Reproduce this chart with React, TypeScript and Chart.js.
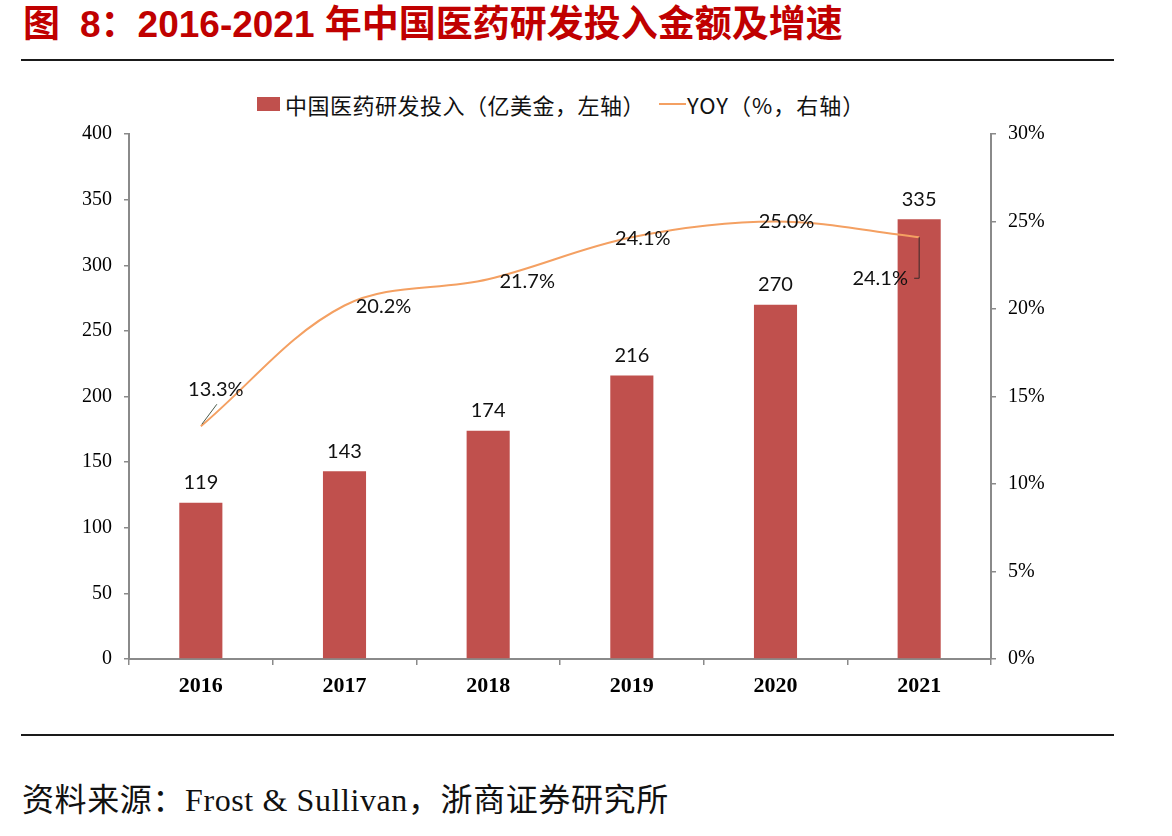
import React, { useEffect, useRef } from 'react';
import { Chart, registerables } from 'chart.js';

Chart.register(...registerables);

// 2016-2021 China pharmaceutical R&D spending (100M USD) and YoY growth (%)
const years = ['2016', '2017', '2018', '2019', '2020', '2021'];
const rdSpend = [119, 143, 174, 216, 270, 335];
const yoyGrowth = [13.3, 20.2, 21.7, 24.1, 25.0, 24.1];

const BAR_COLOR = '#C0504D';
const LINE_COLOR = '#F4A062';
const AXIS_COLOR = '#8a8a8a';

// pixel offsets of the growth labels relative to their points, plus optional leader lines
const growthLabelOffsets: Array<{ dx: number; dy: number; leader?: 'diag' | 'elbow' }> = [
  { dx: 15, dy: -37, leader: 'diag' },
  { dx: 39, dy: 1 },
  { dx: 39, dy: 2 },
  { dx: 11, dy: 1 },
  { dx: 11, dy: 0 },
  { dx: -39, dy: 41, leader: 'elbow' },
];

const valueLabels = {
  id: 'valueLabels',
  afterDatasetsDraw(chart: any) {
    const { ctx } = chart;
    ctx.save();
    ctx.font = '20px Lato, "Noto Sans", sans-serif';
    ctx.fillStyle = '#111';
    ctx.textAlign = 'center';
    ctx.textBaseline = 'middle';

    const barMeta = chart.getDatasetMeta(0);
    barMeta.data.forEach((bar: any, i: number) => {
      ctx.fillText(String(rdSpend[i]), bar.x, bar.y - 20);
    });

    const lineMeta = chart.getDatasetMeta(1);
    lineMeta.data.forEach((pt: any, i: number) => {
      const off = growthLabelOffsets[i];
      const tx = pt.x + off.dx;
      const ty = pt.y + off.dy;
      if (off.leader === 'diag') {
        ctx.strokeStyle = '#4a5a4a';
        ctx.lineWidth = 1;
        ctx.beginPath();
        ctx.moveTo(pt.x + 1, pt.y - 2);
        ctx.lineTo(pt.x + 16, pt.y - 22);
        ctx.stroke();
      } else if (off.leader === 'elbow') {
        ctx.strokeStyle = '#3a2a2a';
        ctx.lineWidth = 1;
        ctx.beginPath();
        ctx.moveTo(pt.x, pt.y);
        ctx.lineTo(pt.x, ty);
        ctx.lineTo(pt.x - 5, ty);
        ctx.stroke();
      }
      ctx.fillStyle = '#111';
      ctx.fillText(yoyGrowth[i].toFixed(1) + '%', tx, ty);
    });
    ctx.restore();
  },
};

function RdChart() {
  const canvasRef = useRef<HTMLCanvasElement | null>(null);

  useEffect(() => {
    if (!canvasRef.current) return;
    const chart = new Chart(canvasRef.current, {
      type: 'bar',
      data: {
        labels: years,
        datasets: [
          {
            type: 'bar',
            label: '中国医药研发投入（亿美金，左轴）',
            data: rdSpend,
            backgroundColor: BAR_COLOR,
            barPercentage: 0.3,
            categoryPercentage: 1,
            yAxisID: 'y',
            order: 1,
          },
          {
            type: 'line',
            label: 'YOY（%，右轴）',
            data: yoyGrowth,
            borderColor: LINE_COLOR,
            borderWidth: 2,
            pointRadius: 0,
            tension: 0.35,
            fill: false,
            yAxisID: 'y1',
            order: 0,
          } as any,
        ],
      },
      options: {
        responsive: false,
        animation: false,
        layout: { padding: { top: 2, left: 0, right: 0, bottom: 0 } },
        plugins: {
          legend: { display: false },
          tooltip: { enabled: false },
        },
        scales: {
          x: {
            grid: {
              offset: true,
              drawOnChartArea: false,
              drawTicks: true,
              tickLength: 6,
              color: AXIS_COLOR,
              lineWidth: 1.5,
            },
            border: { color: AXIS_COLOR, width: 2 },
            ticks: {
              color: '#000',
              padding: 8,
              font: { family: '"Liberation Serif", serif', size: 22, weight: 'bold' },
            },
            afterFit(scale: any) {
              scale.height = 61;
            },
          },
          y: {
            position: 'left',
            min: 0,
            max: 400,
            ticks: {
              stepSize: 50,
              color: '#000',
              padding: 12,
              font: { family: '"Liberation Serif", serif', size: 20 },
            },
            grid: {
              drawOnChartArea: false,
              drawTicks: true,
              tickLength: 5,
              color: AXIS_COLOR,
              lineWidth: 1.5,
            },
            border: { color: AXIS_COLOR, width: 2 },
            afterFit(scale: any) {
              scale.width = 129;
            },
          },
          y1: {
            position: 'right',
            min: 0,
            max: 30,
            ticks: {
              stepSize: 5,
              color: '#000',
              padding: 12,
              font: { family: '"Liberation Serif", serif', size: 20 },
              callback: (v: any) => `${v}%`,
            },
            grid: {
              drawOnChartArea: false,
              drawTicks: true,
              tickLength: 5,
              color: AXIS_COLOR,
              lineWidth: 1.5,
            },
            border: { color: AXIS_COLOR, width: 2 },
            afterFit(scale: any) {
              scale.width = 181;
            },
          },
        },
      } as any,
      plugins: [valueLabels],
    });
    return () => chart.destroy();
  }, []);

  return <canvas ref={canvasRef} width={1172} height={610} style={{ display: 'block' }} />;
}

export default function App() {
  const cjkSans = '"Noto Sans CJK SC", sans-serif';
  return (
    <div
      style={{
        position: 'fixed',
        left: 0,
        top: 0,
        width: 1172,
        height: 836,
        background: '#fff',
        overflow: 'hidden',
      }}
    >
      {/* Title */}
      <div
        style={{
          position: 'absolute',
          left: 23,
          top: 6,
          fontFamily: '"Liberation Sans", "Noto Sans CJK SC", sans-serif',
          fontWeight: 'bold',
          fontSize: 37,
          lineHeight: '37px',
          color: '#C00000',
          whiteSpace: 'nowrap',
        }}
      >
        <span>图</span>
        <span style={{ marginLeft: 20 }}>8：2016-2021 年中国医药研发投入金额及增速</span>
      </div>
      <div style={{ position: 'absolute', left: 21, top: 59, width: 1093, height: 2, background: '#1a1a1a' }} />

      {/* Legend */}
      <div
        style={{
          position: 'absolute',
          left: 257,
          top: 89,
          height: 30,
          display: 'flex',
          alignItems: 'center',
          fontFamily: cjkSans,
          fontSize: 22,
          color: '#111',
          whiteSpace: 'nowrap',
        }}
      >
        <span style={{ display: 'inline-block', width: 23, height: 14, background: BAR_COLOR, marginRight: 5 }} />
        <span style={{ letterSpacing: 0.5 }}>中国医药研发投入（亿美金，左轴）</span>
        <span
          style={{ display: 'inline-block', width: 27, height: 2, background: LINE_COLOR, marginLeft: 14, marginRight: 1 }}
        />
        <span style={{ letterSpacing: 1 }}>YOY（%，右轴）</span>
      </div>

      {/* Chart */}
      <div style={{ position: 'absolute', left: 0, top: 110, width: 1172, height: 610 }}>
        <RdChart />
      </div>

      <div style={{ position: 'absolute', left: 21, top: 734, width: 1093, height: 2, background: '#1a1a1a' }} />

      {/* Source */}
      <div
        style={{
          position: 'absolute',
          left: 22,
          top: 783,
          fontFamily: '"Liberation Serif", "Noto Sans CJK SC", serif',
          fontSize: 32,
          lineHeight: '34px',
          letterSpacing: 0.6,
          color: '#111',
          whiteSpace: 'nowrap',
        }}
      >
        资料来源：Frost &amp; Sullivan，浙商证券研究所
      </div>
    </div>
  );
}
